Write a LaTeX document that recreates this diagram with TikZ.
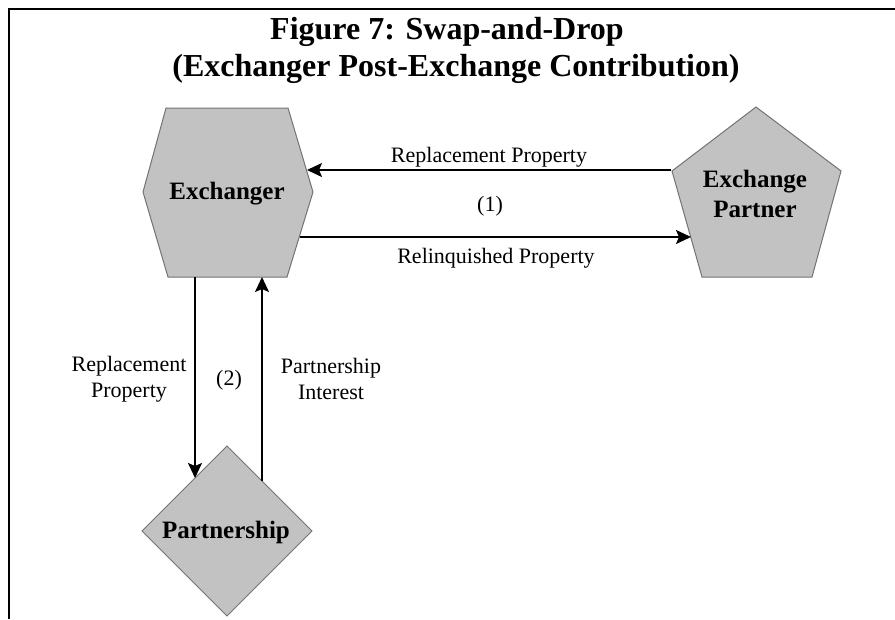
\documentclass[tikz,border=0pt]{standalone}
\usepackage{fontspec}
\setmainfont{Liberation Serif}
\usetikzlibrary{arrows.meta}
\begin{document}
\begin{tikzpicture}[x=1pt, y=-1pt,
  party/.style={draw=gray!90!black, fill=gray!48, line width=1pt},
  partylabel/.style={font=\bfseries\fontsize{25}{30}\selectfont, align=center, inner sep=0pt},
  flowlabel/.style={font=\fontsize{22}{26}\selectfont, align=center, inner sep=0pt},
  titleline/.style={font=\bfseries\fontsize{32}{37}\selectfont, anchor=base, inner sep=0pt},
  flow/.style={line width=1.8pt, -{Stealth[length=15pt, width=14pt, inset=3pt]}}]
  \useasboundingbox (0,0) rectangle (895,619);
  \draw[line width=2pt] (9,619) -- (9,9) -- (895,9);
  \node[titleline] (title1) at (447,39) {Figure 7: Swap-and-Drop};
  \node[titleline] (title2) at (456,76) {(Exchanger Post-Exchange Contribution)};
  \draw[party] (166,108) -- (288,108) -- (313,192) -- (287,277) -- (168,277) -- (143,192) -- cycle;
  \draw[party] (756,107) -- (841,171) -- (812,277) -- (702,277) -- (672,171) -- cycle;
  \draw[party] (227,446) -- (312,531) -- (227,616) -- (142,531) -- cycle;
  \node[partylabel] (exchanger) at (227,194) {Exchanger};
  \node[partylabel] (partner) at (755,194) {Exchange\\Partner};
  \node[partylabel] (partnership) at (226,532) {Partnership};
  \coordinate (partnerout) at (671,170);
  \coordinate (exchangerin) at (307,170);
  \coordinate (exchangerout) at (300,237);
  \coordinate (partnerin) at (691,237);
  \coordinate (exchangerdown) at (195,277);
  \coordinate (partnershipin) at (195,478);
  \coordinate (partnershipout) at (262,481);
  \coordinate (exchangerup) at (262,277);
  \draw[flow] (partnerout) -- (exchangerin);
  \draw[flow] (exchangerout) -- (partnerin);
  \draw[flow] (exchangerdown) -- (partnershipin);
  \draw[flow] (partnershipout) -- (exchangerup);
  \node[flowlabel] (replacementtop) at (489,157) {Replacement Property};
  \node[flowlabel] (stepone) at (490,206) {(1)};
  \node[flowlabel] (relinquished) at (496,258) {Relinquished Property};
  \node[flowlabel] (replacementleft) at (129,379) {Replacement\\Property};
  \node[flowlabel] (steptwo) at (229,380) {(2)};
  \node[flowlabel] (interest) at (331,379) {Partnership\\Interest};
\end{tikzpicture}
\end{document}
